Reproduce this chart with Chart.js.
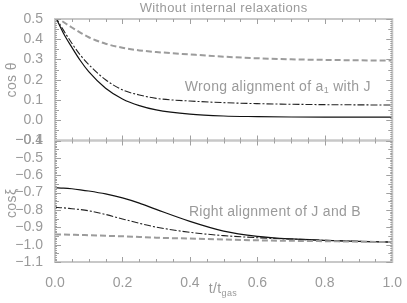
<!DOCTYPE html>
<html>
<head>
<meta charset="utf-8">
<script src="https://cdn.jsdelivr.net/npm/chart.js@4/dist/chart.umd.min.js"></script>
<style>
    html, body { margin: 0; padding: 0; background: #fff; }
    #wrap { width: 407px; height: 303px; }
</style>
</head>
<body>
<div id="wrap"><canvas id="chart"></canvas></div>
<script>
// time axis (t / t_gas)
var T = [0, 0.025, 0.05, 0.075, 0.1, 0.15, 0.2, 0.25, 0.3, 0.4, 0.5, 0.6, 0.7, 0.8, 0.9, 1.0];

// top panel: cos theta
var thetaSolid = [0.515, 0.43, 0.36, 0.295, 0.24, 0.158, 0.105, 0.072, 0.051, 0.03, 0.021, 0.018, 0.016, 0.015, 0.015, 0.015];
var thetaDash = [0.515, 0.445, 0.38, 0.322, 0.275, 0.2, 0.15, 0.125, 0.108, 0.095, 0.087, 0.082, 0.079, 0.077, 0.076, 0.075];
var thetaGrey = [0.515, 0.485, 0.458, 0.433, 0.41, 0.378, 0.358, 0.345, 0.337, 0.325, 0.314, 0.306, 0.301, 0.298, 0.296, 0.295];

// bottom panel: cos xi
var xiSolid = [-0.672, -0.674, -0.678, -0.684, -0.691, -0.708, -0.731, -0.761, -0.797, -0.866, -0.922, -0.952, -0.967, -0.975, -0.981, -0.985];
var xiDash = [-0.785, -0.788, -0.793, -0.798, -0.805, -0.826, -0.852, -0.877, -0.899, -0.929, -0.948, -0.96, -0.968, -0.975, -0.981, -0.985];
var xiGrey = [-0.941, -0.942, -0.943, -0.944, -0.946, -0.949, -0.952, -0.956, -0.96, -0.965, -0.97, -0.975, -0.978, -0.98, -0.983, -0.985];

var xTicks = [0, 0.2, 0.4, 0.6, 0.8, 1.0];

var textGrey = '#9a9a9a';
var axisGrey = '#c8c8c8';
var tickGrey = '#a0a0a0';
var font = 'Liberation Sans';

var pts = function (ys) {
    return ys.map(function (y, i) { return { x: T[i], y: y }; });
};

var fmt = function (v) {
    var s = Math.abs(v).toFixed(1);
    return (v < -0.0001 ? '\u2212' : '') + s;
};

// frame, axis titles and in-plot labels
var decor = {
    id: 'decor',
    afterDraw: function (chart) {
        var ctx = chart.ctx;
        var x = chart.scales.x, yt = chart.scales.yTop, yb = chart.scales.yBot;
        ctx.save();
        ctx.strokeStyle = axisGrey;
        ctx.lineWidth = 2;
        ctx.strokeRect(x.left, yt.top, x.right - x.left, yt.bottom - yt.top);
        ctx.strokeRect(x.left, yb.top, x.right - x.left, yb.bottom - yb.top);
        // inward ticks
        ctx.lineWidth = 1;
        ctx.strokeStyle = tickGrey;
        [yt, yb].forEach(function (s) {
            for (var i = 1; i < 20; i++) {
                var px = Math.round(x.getPixelForValue(i / 20)) + 0.5;
                var len = i % 4 === 0 ? 5 : 3;
                ctx.beginPath();
                ctx.moveTo(px, s.top); ctx.lineTo(px, s.top + len);
                ctx.moveTo(px, s.bottom); ctx.lineTo(px, s.bottom - len);
                ctx.stroke();
            }
            for (var v = Math.ceil(s.min * 100); v <= Math.floor(s.max * 100); v++) {
                var py = Math.round(s.getPixelForValue(v / 100)) + 0.5;
                var l = v % 10 === 0 ? 6 : (v % 5 === 0 ? 4 : 2);
                ctx.beginPath();
                ctx.moveTo(x.left, py); ctx.lineTo(x.left + l, py);
                ctx.moveTo(x.right, py); ctx.lineTo(x.right - l, py);
                ctx.stroke();
            }
        });

        ctx.fillStyle = textGrey;
        ctx.textBaseline = 'middle';
        ctx.textAlign = 'center';
        ctx.letterSpacing = '0.4px';
        ctx.font = '13px "' + font + '"';
        ctx.fillText('Without internal relaxations', (x.left + x.right) / 2, 8);

        // y titles
        ctx.font = '14px "' + font + '"';
        ctx.save();
        ctx.translate(12, (yt.top + yt.bottom) / 2);
        ctx.rotate(-Math.PI / 2);
        ctx.fillText('cos \u03b8', 0, 0);
        ctx.restore();
        ctx.save();
        ctx.translate(12, (yb.top + yb.bottom) / 2 + 2);
        ctx.rotate(-Math.PI / 2);
        ctx.fillText('cos\u03be', 0, 0);
        ctx.restore();

        // x title t/t_gas
        ctx.textAlign = 'left';
        var cx = (x.left + x.right) / 2 - 15;
        ctx.fillText('t/t', cx, 289);
        var w = ctx.measureText('t/t').width;
        ctx.font = '9px "' + font + '"';
        ctx.fillText('gas', cx + w, 294);

        // labels inside panels
        ctx.letterSpacing = '0.3px';
        ctx.font = '14px "' + font + '"';
        var lx = x.getPixelForValue(0.385), ly = yt.getPixelForValue(0.165);
        var s1 = 'Wrong alignment of a', s2 = ' with J';
        ctx.fillText(s1, lx, ly);
        var w1 = ctx.measureText(s1).width;
        ctx.font = '9px "' + font + '"';
        ctx.fillText('1', lx + w1, ly + 4);
        var ws = ctx.measureText('1').width;
        ctx.font = '14px "' + font + '"';
        ctx.fillText(s2, lx + w1 + ws, ly);
        ctx.fillText('Right alignment of J and B', x.getPixelForValue(0.397), yb.getPixelForValue(-0.81));
        ctx.restore();
    }
};

var lineDs = function (data, axis, color, width, dash) {
    return {
        data: pts(data),
        yAxisID: axis,
        borderColor: color,
        borderWidth: width,
        borderDash: dash,
        pointRadius: 0,
        fill: false,
        cubicInterpolationMode: 'monotone'
    };
};

var yScale = function (min, max, weight) {
    return {
        type: 'linear',
        position: 'left',
        stack: 'panels',
        stackWeight: 1,
        weight: weight,
        min: min,
        max: max,
        afterFit: function (s) { s.width = 55; },
        afterBuildTicks: function (s) {
            var t = [];
            for (var v = Math.round(min * 10); v <= Math.round(max * 10); v++) t.push({ value: v / 10 });
            s.ticks = t;
        },
        border: { display: false },
        grid: { display: false },
        ticks: {
            autoSkip: false,
            color: textGrey,
            font: { family: font, size: 14 },
            padding: 4,
            callback: function (v) { return fmt(v); }
        }
    };
};

window.onload = function () {
    var ctx = document.getElementById('chart').getContext('2d');
    new Chart(ctx, {
        type: 'line',
        data: {
            datasets: [
                lineDs(thetaGrey, 'yTop', '#9c9c9c', 2, [6, 3]),
                lineDs(thetaDash, 'yTop', '#222', 1.1, [7, 2, 2, 2]),
                lineDs(thetaSolid, 'yTop', '#111', 1.2, []),
                lineDs(xiGrey, 'yBot', '#9c9c9c', 2, [6, 3]),
                lineDs(xiDash, 'yBot', '#222', 1.1, [7, 2, 2, 2]),
                lineDs(xiSolid, 'yBot', '#111', 1.2, [])
            ]
        },
        options: {
            responsive: true,
            maintainAspectRatio: false,
            animation: false,
            layout: { padding: { left: 0, right: 12, top: 19, bottom: 0 } },
            plugins: { legend: { display: false }, tooltip: { enabled: false } },
            scales: {
                x: {
                    type: 'linear',
                    min: 0,
                    max: 1,
                    afterFit: function (s) { s.height = 41; },
                    afterBuildTicks: function (s) {
                        s.ticks = xTicks.map(function (v) { return { value: v }; });
                    },
                    border: { display: false },
                    grid: { display: false },
                    ticks: {
                        color: textGrey,
                        font: { family: font, size: 14 },
                        padding: 5,
                        maxRotation: 0,
                        callback: function (v) { return v.toFixed(1); }
                    }
                },
                yBot: yScale(-1.1, -0.4, 1),
                yTop: yScale(-0.1, 0.5, 2)
            }
        },
        plugins: [decor]
    });
};
</script>
</body>
</html>
